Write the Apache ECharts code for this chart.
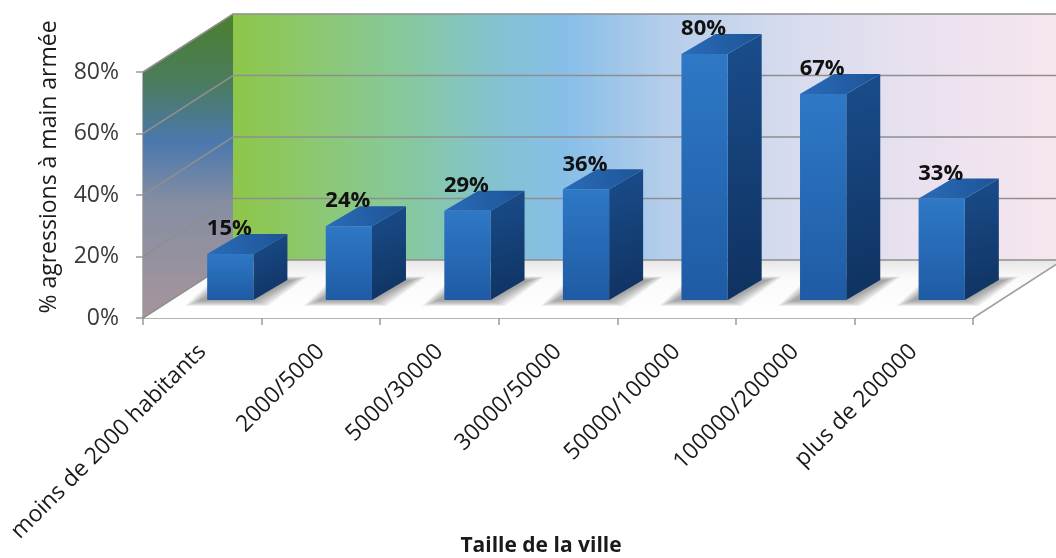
<!DOCTYPE html>
<html>
<head>
<meta charset="utf-8">
<script src="https://cdn.jsdelivr.net/npm/echarts@6/dist/echarts.min.js"></script>
<style>
  html, body { margin: 0; padding: 0; background: #ffffff; }
  #chart { width: 1056px; height: 558px; }
</style>
</head>
<body>
<div id="chart"></div>
<script>
// City size classes and share of armed robberies (%)
const categories = ['moins de 2000 habitants', '2000/5000', '5000/30000', '30000/50000', '50000/100000', '100000/200000', 'plus de 200000'];
const values = [15, 24, 29, 36, 80, 67, 33];
const yMin = 0;
const yMax = 80;
const yStep = 20;

// Perspective of the fake 3D box (pixels)
const DEPTH_X = 90, DEPTH_Y = -58;        // full floor depth
const BAR_POS_X = 28, BAR_POS_Y = -18;    // where the bar front face stands on the floor
const BAR_DX = 34, BAR_DY = -20;          // bar thickness in depth
const FONT = '"Open Sans", "DejaVu Sans", sans-serif';

const chart = echarts.init(document.getElementById('chart'));

function renderWalls(params, api) {
  const bw = api.size([1, 0])[0];
  const left = api.coord([0, yMin])[0] - bw / 2;
  const right = api.coord([categories.length - 1, yMin])[0] + bw / 2;
  const y0 = api.coord([0, yMin])[1];
  const yTop = api.coord([0, yMax])[1];
  const children = [];

  // left side wall
  children.push({
    type: 'polygon',
    shape: { points: [[left, y0], [left, yTop], [left + DEPTH_X, yTop + DEPTH_Y], [left + DEPTH_X, y0 + DEPTH_Y]] },
    style: {
      fill: new echarts.graphic.LinearGradient(0, 0, 0, 1, [
        { offset: 0, color: '#4c7f2e' },
        { offset: 0.22, color: '#4b7c5c' },
        { offset: 0.42, color: '#4a78ae' },
        { offset: 0.62, color: '#858ea2' },
        { offset: 1, color: '#a6959c' }
      ])
    }
  });
  // back wall
  children.push({
    type: 'polygon',
    shape: { points: [[left + DEPTH_X, yTop + DEPTH_Y], [right + DEPTH_X, yTop + DEPTH_Y], [right + DEPTH_X, y0 + DEPTH_Y], [left + DEPTH_X, y0 + DEPTH_Y]] },
    style: {
      fill: new echarts.graphic.LinearGradient(0, 0, 1, 0, [
        { offset: 0, color: '#8dc648' },
        { offset: 0.1, color: '#8cc872' },
        { offset: 0.22, color: '#86c8a2' },
        { offset: 0.32, color: '#84c2d2' },
        { offset: 0.4, color: '#87bee8' },
        { offset: 0.52, color: '#b4cdea' },
        { offset: 0.66, color: '#d4dbee' },
        { offset: 0.82, color: '#e9e1ef' },
        { offset: 1, color: '#f7e6ef' }
      ])
    }
  });
  // floor
  children.push({
    type: 'polygon',
    shape: { points: [[left, y0], [right, y0], [right + DEPTH_X, y0 + DEPTH_Y], [left + DEPTH_X, y0 + DEPTH_Y]] },
    style: {
      fill: new echarts.graphic.LinearGradient(0, 1, 0, 0, [
        { offset: 0, color: '#ffffff' },
        { offset: 0.7, color: '#fafafa' },
        { offset: 1, color: '#e6e6e6' }
      ])
    }
  });
  // gridlines on both walls
  for (let t = yMin; t <= yMax; t += yStep) {
    const y = api.coord([0, t])[1];
    children.push({
      type: 'polyline',
      shape: { points: [[left, y], [left + DEPTH_X, y + DEPTH_Y], [right + DEPTH_X, y + DEPTH_Y]] },
      style: { stroke: '#8e8e8e', lineWidth: 1.5, fill: null }
    });
  }
  // floor right edge
  children.push({
    type: 'line',
    shape: { x1: right, y1: y0, x2: right + DEPTH_X, y2: y0 + DEPTH_Y },
    style: { stroke: '#a0a0a0', lineWidth: 1.5 }
  });
  return { type: 'group', children: children };
}

// soft drop shadow under a bar: many faint footprints, growing outward
function shadowLayers(x0, x1, yb) {
  const layers = [];
  for (let k = 9; k >= 0; k--) {
    const g = k * 1.6;
    layers.push({
      type: 'polygon',
      shape: {
        points: [
          [x0 - 8 - g, yb + 1 + g * 0.35],
          [x1 + g, yb + 1 + g * 0.35],
          [x1 + BAR_DX + 6 + g, yb + BAR_DY - g * 0.25],
          [x0 + BAR_DX - 10 - g, yb + BAR_DY - g * 0.25]
        ]
      },
      style: { fill: 'rgba(60,60,60,0.06)' }
    });
  }
  return layers;
}

function renderBar(params, api) {
  const idx = api.value(0);
  const v = api.value(1);
  const bw = api.size([1, 0])[0];
  const base = api.coord([idx, yMin]);
  const top = api.coord([idx, v]);
  const w = bw * 0.39;
  const cx = base[0] + BAR_POS_X;
  const x0 = cx - w / 2, x1 = cx + w / 2;
  const yb = base[1] + BAR_POS_Y;
  const yt = top[1] + BAR_POS_Y;
  return {
    type: 'group',
    children: shadowLayers(x0, x1, yb).concat([
      {
        type: 'polygon',
        shape: { points: [[x1, yb], [x1, yt], [x1 + BAR_DX, yt + BAR_DY], [x1 + BAR_DX, yb + BAR_DY]] },
        style: {
          fill: new echarts.graphic.LinearGradient(0, 0, 1, 1, [
            { offset: 0, color: '#1a4d8c' },
            { offset: 1, color: '#0f3260' }
          ])
        }
      },
      {
        type: 'polygon',
        shape: { points: [[x0, yt], [x1, yt], [x1 + BAR_DX, yt + BAR_DY], [x0 + BAR_DX, yt + BAR_DY]] },
        style: {
          fill: new echarts.graphic.LinearGradient(0, 1, 1, 0, [
            { offset: 0, color: '#2a6cb8' },
            { offset: 1, color: '#1d5396' }
          ])
        }
      },
      {
        type: 'rect',
        shape: { x: x0, y: yt, width: w, height: yb - yt },
        style: {
          fill: new echarts.graphic.LinearGradient(0, 0, 0, 1, [
            { offset: 0, color: '#2e78c6' },
            { offset: 1, color: '#1f5ba4' }
          ])
        }
      },
      {
        type: 'text',
        style: {
          text: v + '%',
          x: cx - 1,
          y: yt - 25,
          align: 'center',
          verticalAlign: 'middle',
          fill: '#111111',
          fontSize: 22,
          fontWeight: 'bold',
          fontFamily: FONT
        }
      }
    ])
  };
}

chart.setOption({
  animation: false,
  backgroundColor: '#ffffff',
  grid: { left: 143, right: 83, top: 72, bottom: 240, containLabel: false, outerBoundsMode: 'none' },
  xAxis: {
    type: 'category',
    data: categories,
    boundaryGap: true,
    name: 'Taille de la ville',
    nameLocation: 'middle',
    nameGap: 218,
    nameMoveOverlap: false,
    nameTextStyle: { fontSize: 21, fontWeight: 'bold', color: '#1a1a1a', fontFamily: FONT, padding: [0, 34, 0, 0] },
    axisLine: { show: true, lineStyle: { color: '#9a9a9a', width: 1.5 } },
    axisTick: { show: true, length: 7, lineStyle: { color: '#9a9a9a', width: 1.5 } },
    axisLabel: { rotate: 45, fontSize: 23, color: '#1a1a1a', margin: 30, fontFamily: FONT, interval: 0 },
    splitLine: { show: false }
  },
  yAxis: {
    type: 'value',
    min: yMin,
    max: yMax,
    interval: yStep,
    name: '% agressions à main armée',
    nameLocation: 'middle',
    nameGap: 82,
    nameMoveOverlap: false,
    nameTextStyle: { fontSize: 23, color: '#1a1a1a', fontFamily: FONT, padding: [0, 0, 0, 56] },
    axisLine: { show: true, lineStyle: { color: '#9a9a9a', width: 1.5 } },
    axisTick: { show: true, length: 7, lineStyle: { color: '#9a9a9a', width: 1.5 } },
    axisLabel: { formatter: '{value}%', fontSize: 23, color: '#3a3a3a', margin: 24, fontFamily: FONT },
    splitLine: { show: false }
  },
  series: [
    {
      type: 'custom',
      name: 'walls',
      clip: false,
      z: 1,
      silent: true,
      renderItem: renderWalls,
      data: [[0, yMin]]
    },
    {
      type: 'custom',
      name: 'bars',
      clip: false,
      z: 3,
      renderItem: renderBar,
      encode: { x: 0, y: 1 },
      data: values.map((v, i) => [i, v])
    }
  ]
});
</script>
</body>
</html>
